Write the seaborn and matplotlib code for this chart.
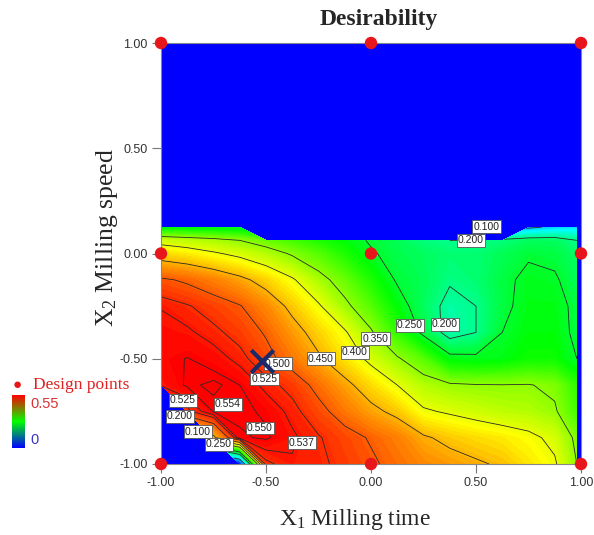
import numpy as np
import matplotlib
matplotlib.use("Agg")
import matplotlib.pyplot as plt
import seaborn as sns
from matplotlib.colors import LinearSegmentedColormap, Normalize
from matplotlib.cm import ScalarMappable

# factor grid (coded units)
x1_grid = [-1.0, -0.875, -0.75, -0.625, -0.5, -0.375, -0.25, -0.125, 0.0,
           0.125, 0.25, 0.375, 0.5, 0.625, 0.75, 0.875, 0.98]
x2_grid = [-1.0, -0.875, -0.75, -0.625, -0.5, -0.375, -0.25, -0.125, 0.0, 0.0625, 0.125]

nan = np.nan
# desirability, one row per x2 value (bottom to top); nan = outside the feasible region
desirability = [
    [nan, nan, nan, 0, 0.52, 0.535, 0.53, 0.518, 0.505, 0.49, 0.475, 0.465, 0.455, 0.445, 0.425, 0.405, 0.35],
    [nan, nan, 0.44, 0.548, 0.552, 0.540, 0.527, 0.512, 0.497, 0.48, 0.455, 0.44, 0.43, 0.422, 0.41, 0.39, 0.34],
    [nan, 0.52, 0.551, 0.553, 0.548, 0.532, 0.51, 0.485, 0.46, 0.44, 0.405, 0.395, 0.385, 0.375, 0.37, 0.355, 0.31],
    [0.538, 0.552, 0.556, 0.55, 0.532, 0.518, 0.49, 0.46, 0.43, 0.40, 0.37, 0.356, 0.352, 0.351, 0.352, 0.342, 0.30],
    [0.546, 0.5505, 0.545, 0.532, 0.51, 0.485, 0.455, 0.425, 0.39, 0.355, 0.32, 0.265, 0.26, 0.265, 0.28, 0.28, 0.25],
    [0.543, 0.54, 0.53, 0.517, 0.497, 0.465, 0.435, 0.405, 0.355, 0.30, 0.24, 0.18, 0.2, 0.25, 0.27, 0.27, 0.24],
    [0.536, 0.527, 0.515, 0.502, 0.475, 0.44, 0.405, 0.36, 0.32, 0.27, 0.225, 0.185, 0.2, 0.24, 0.265, 0.265, 0.24],
    [0.505, 0.495, 0.48, 0.46, 0.435, 0.405, 0.365, 0.33, 0.29, 0.245, 0.23, 0.205, 0.215, 0.24, 0.26, 0.255, 0.23],
    [0.43, 0.42, 0.405, 0.39, 0.37, 0.345, 0.32, 0.29, 0.255, 0.235, 0.225, 0.215, 0.215, 0.23, 0.245, 0.24, 0.22],
    [0.385, 0.375, 0.365, 0.35, 0.33, 0.31, 0.29, 0.27, 0.245, 0.23, 0.21, 0.2, 0.2, 0.21, 0.225, 0.225, 0.2],
    [0.265, 0.26, 0.255, 0.25, nan, nan, nan, nan, nan, nan, nan, nan, nan, nan, 0.09, 0.11, 0.12],
]

contour_levels = [0.1, 0.2, 0.25, 0.35, 0.4, 0.45, 0.5, 0.525, 0.537, 0.55, 0.554]

design_x1 = [-1, 0, 1, -1, 0, 1, -1, 0, 1]
design_x2 = [1, 1, 1, 0, 0, 0, -1, -1, -1]

opt_x1 = [-0.52]
opt_x2 = [-0.51]

ticks = [-1.0, -0.5, 0.0, 0.5, 1.0]

sns.set_theme(style="white")
plt.rcParams["font.family"] = ["Liberation Sans", "DejaVu Sans"]

fig = plt.figure(figsize=(5.94, 5.35), dpi=100)
ax = fig.add_axes([161 / 594, 71 / 535, 420 / 594, 421 / 535])
ax.set_facecolor("#0000ff")

surface_cmap = LinearSegmentedColormap.from_list(
    "de", ["#0000ff", "#00ffff", "#00ff00", "#ffff00", "#ff0000"])
X1, X2 = np.meshgrid(x1_grid, x2_grid)
Z = np.ma.masked_invalid(np.array(desirability, dtype=float))

ax.contourf(X1, X2, Z, levels=np.linspace(-0.001, 0.56, 90), cmap=surface_cmap,
            vmin=0, vmax=0.55)
cs = ax.contour(X1, X2, Z, levels=contour_levels, colors="#2b2b2b", linewidths=0.6)

# contour value tags, where the reference places them
label_spots = {
    0.1: [(0.55, 0.128), (-0.824, -0.846)],
    0.2: [(0.476, 0.062), (0.352, -0.337), (-0.91, -0.774)],
    0.25: [(0.186, -0.342), (-0.724, -0.907)],
    0.35: [(0.021, -0.404)],
    0.4: [(-0.076, -0.47)],
    0.45: [(-0.238, -0.499)],
    0.5: [(-0.443, -0.523)],
    0.525: [(-0.507, -0.596), (-0.895, -0.698)],
    0.537: [(-0.329, -0.898)],
    0.55: [(-0.529, -0.829)],
    0.554: [(-0.681, -0.717)],
}
for lev, spots in label_spots.items():
    for (lx, ly) in spots:
        ax.text(lx, ly, f"{lev:.3f}", fontsize=7.5, color="#222222", ha="center",
                va="center", zorder=5,
                bbox=dict(facecolor="white", edgecolor="#555555", linewidth=0.6, pad=1.0))

sns.scatterplot(x=design_x1, y=design_x2, ax=ax, color="#e8161b", s=80,
                edgecolor="none", clip_on=False, zorder=10, legend=False)
sns.scatterplot(x=opt_x1, y=opt_x2, ax=ax, marker="x", color="#1b2a6b", s=260,
                linewidth=3, zorder=11, legend=False)

ax.set_xlim(-1, 1)
ax.set_ylim(-1, 1)
ax.set_xticks(ticks)
ax.set_yticks(ticks)
ax.set_xticklabels([f"{t:.2f}" for t in ticks])
ax.set_yticklabels([f"{t:.2f}" for t in ticks])
ax.tick_params(axis="both", direction="out", length=6.5, width=0.8, color="#777777",
               labelsize=9, labelcolor="#333333", pad=3, bottom=True, left=True)
for sp in ax.spines.values():
    sp.set_color("#888888")
    sp.set_linewidth(0.8)

serif = ["Liberation Serif", "DejaVu Serif"]
ax.set_title("Desirability", fontfamily=serif, fontweight="bold", fontsize=17, pad=13,
             x=0.519)
ax.set_xlabel(r"$\mathregular{X_1}$ Milling time", fontfamily=serif, fontsize=17)
ax.set_ylabel(r"$\mathregular{X_2}$ Milling speed", fontfamily=serif, fontsize=18.5)
ax.xaxis.set_label_coords(0.462, -0.103)
ax.yaxis.set_label_coords(-0.098, 0.537)

# colour key on the left
fig.text(17 / 594, 1 - 385 / 535, "\u25cf", color="#e8161b", fontsize=11,
         ha="center", va="center")
fig.text(33 / 594, 1 - 385 / 535, "Design points", color="#e02020", fontsize=12.5,
         fontfamily=serif, ha="left", va="center")
cax = fig.add_axes([12 / 594, 1 - 448 / 535, 13 / 594, 53 / 535])
key_cmap = LinearSegmentedColormap.from_list("key", ["#0000ff", "#00ff00", "#ff0000"])
cb = fig.colorbar(ScalarMappable(norm=Normalize(0, 0.55), cmap=key_cmap), cax=cax)
cb.outline.set_visible(False)
cb.set_ticks([])
fig.text(30 / 594, 1 - 404 / 535, "0.55", color="#d83434", fontsize=10.5, ha="left", va="center")
fig.text(30 / 594, 1 - 440 / 535, "0", color="#3434cc", fontsize=10.5, ha="left", va="center")

fig.savefig("out.png", dpi=100)
